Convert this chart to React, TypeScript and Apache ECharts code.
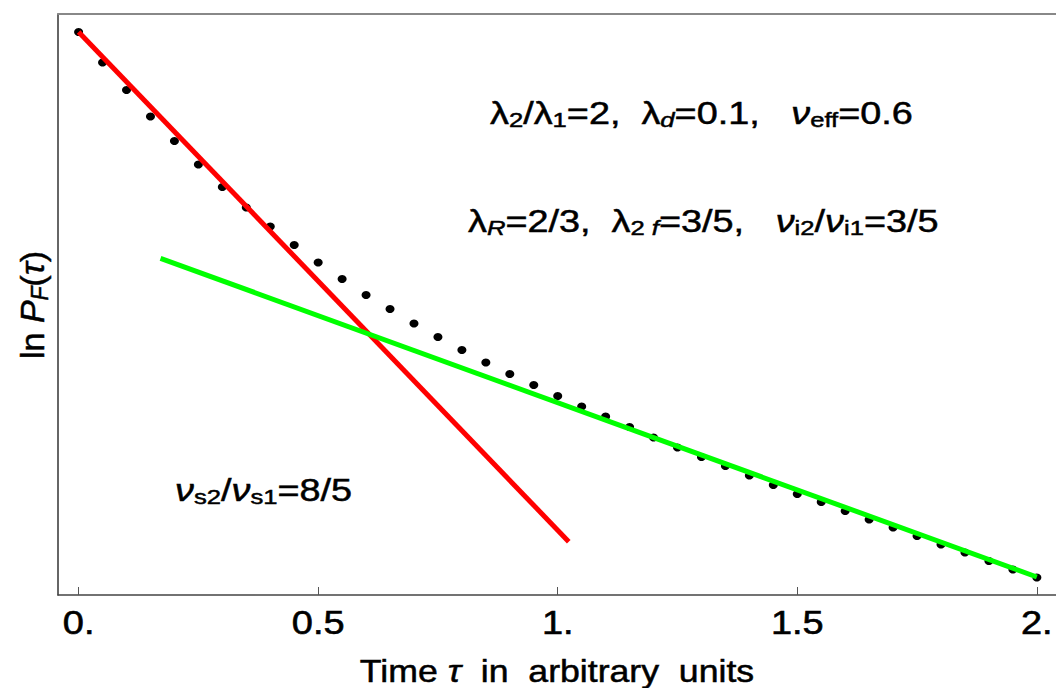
import { useEffect, useRef } from "react";
import * as echarts from "echarts";

// Sampled survival data ln P_F(tau), every 0.05 time units
const tau = [
  0, 0.05, 0.1, 0.15, 0.2, 0.25, 0.3, 0.35, 0.4, 0.45, 0.5, 0.55, 0.6, 0.65,
  0.7, 0.75, 0.8, 0.85, 0.9, 0.95, 1.0, 1.05, 1.1, 1.15, 1.2, 1.25, 1.3, 1.35,
  1.4, 1.45, 1.5, 1.55, 1.6, 1.65, 1.7, 1.75, 1.8, 1.85, 1.9, 1.95, 2.0,
];
const lnP = [
  0, -0.305, -0.58, -0.845, -1.09, -1.325, -1.55, -1.755, -1.945, -2.13,
  -2.305, -2.47, -2.63, -2.77, -2.915, -3.05, -3.18, -3.305, -3.42, -3.53,
  -3.64, -3.745, -3.845, -3.95, -4.055, -4.155, -4.25, -4.34, -4.435, -4.53,
  -4.62, -4.7, -4.79, -4.875, -4.955, -5.04, -5.125, -5.205, -5.29, -5.375,
  -5.455,
];

// Asymptotic straight-line fits: short-time (red) and long-time (green)
const shortFitX = [0, 1.023];
const shortFitY = [0, -5.097];
const longFitX = [0.171, 2.0];
const longFitY = [-2.263, -5.45];

const xTicks = [0, 0.5, 1, 1.5, 2];
const xTickLabels = ["0.", "0.5", "1.", "1.5", "2."];

const FONT = "'Liberation Sans', Arial, Helvetica, sans-serif";

export default function App() {
  const ref = useRef<HTMLDivElement>(null);

  useEffect(() => {
    const chart = echarts.init(ref.current!, null, { renderer: "svg" });

    // Text weight is thickened a little with a thin outline in the fill colour
    const ink = { fill: "#000", stroke: "#000", lineWidth: 0.5 };
    const M = 31;
    const S = 21;
    const rich = {
      m: { fontFamily: FONT, fontSize: M, ...ink },
      it: { fontFamily: FONT, fontSize: M, fontStyle: "italic", ...ink },
      sub: { fontFamily: FONT, fontSize: S, padding: [14, 0, 0, 0], ...ink },
      subi: {
        fontFamily: FONT,
        fontSize: S,
        fontStyle: "italic",
        padding: [14, 0, 0, 0],
        ...ink,
      },
    };
    const yRich = {
      m: { fontFamily: FONT, fontSize: 34, ...ink },
      it: { fontFamily: FONT, fontSize: 34, fontStyle: "italic", ...ink },
      subi: {
        fontFamily: FONT,
        fontSize: 23,
        fontStyle: "italic",
        padding: [15, 0, 0, 0],
        ...ink,
      },
    };

    const pts = tau.map((t, i) => [t, lnP[i]]);
    const shortFit = shortFitX.map((x, i) => [x, shortFitY[i]]);
    const longFit = longFitX.map((x, i) => [x, longFitY[i]]);

    chart.setOption({
      animation: false,
      backgroundColor: "#fff",
      grid: { left: 58, top: 14, width: 1000, height: 581, containLabel: false },
      xAxis: [
        {
          type: "value",
          min: -0.043,
          max: 2.04,
          position: "bottom",
          splitLine: { show: false },
          axisLine: { show: true, onZero: false, lineStyle: { color: "#444", width: 1.5 } },
          axisTick: {
            show: true,
            inside: true,
            length: 8,
            customValues: xTicks,
            lineStyle: { color: "#555", width: 1 },
          },
          axisLabel: { show: false },
        },
        {
          type: "value",
          min: -0.043,
          max: 2.04,
          position: "top",
          splitLine: { show: false },
          axisLine: { show: true, onZero: false, lineStyle: { color: "#888", width: 2 } },
          axisTick: { show: false },
          axisLabel: { show: false },
        },
      ],
      yAxis: {
        type: "value",
        min: -5.63,
        max: 0.18,
        splitLine: { show: false },
        axisLine: { show: true, onZero: false, lineStyle: { color: "#333", width: 1.5 } },
        axisTick: { show: false },
        axisLabel: { show: false },
      },
      series: [
        {
          type: "scatter",
          data: pts,
          symbol: "circle",
          symbolSize: [9, 8],
          itemStyle: { color: "#000", opacity: 1 },
          z: 2,
        },
        {
          type: "line",
          data: shortFit,
          showSymbol: false,
          lineStyle: { color: "#ff0000", width: 5 },
          z: 3,
        },
        {
          type: "line",
          data: longFit,
          showSymbol: false,
          lineStyle: { color: "#00ff00", width: 5 },
          z: 3,
        },
      ],
    });

    // Tick labels are placed from the x axis scale, drawn slightly wide
    const tickTexts = xTicks.map((v, i) => ({
      type: "text",
      x: chart.convertToPixel({ xAxisIndex: 0 }, v) as number,
      y: 623,
      scaleX: 1.15,
      style: {
        text: xTickLabels[i],
        fontFamily: FONT,
        fontSize: 33,
        ...ink,
        lineWidth: 0.6,
        align: "center",
        verticalAlign: "middle",
      },
    }));

    chart.setOption({
      graphic: [
        ...tickTexts,
        {
          type: "text",
          x: 490,
          y: 113,
          scaleX: 1.22,
          style: {
            text: "{m|λ}{sub|2}{m|/λ}{sub|1}{m|=2,  λ}{subi|d}{m|=0.1,   }{it|ν}{sub|eff}{m|=0.6}",
            rich,
            align: "left",
            verticalAlign: "middle",
          },
        },
        {
          type: "text",
          x: 468,
          y: 221,
          scaleX: 1.22,
          style: {
            text: "{m|λ}{subi|R}{m|=2/3,  λ}{sub|2 }{subi|f}{m|=3/5,   }{it|ν}{sub|i2}{m|/}{it|ν}{sub|i1}{m|=3/5}",
            rich,
            align: "left",
            verticalAlign: "middle",
          },
        },
        {
          type: "text",
          x: 175,
          y: 490,
          scaleX: 1.22,
          style: {
            text: "{it|ν}{sub|s2}{m|/}{it|ν}{sub|s1}{m|=8/5}",
            rich,
            align: "left",
            verticalAlign: "middle",
          },
        },
        {
          type: "text",
          x: 557,
          y: 671,
          scaleX: 1.15,
          style: {
            text: "{m|Time }{it|τ}{m|  in  arbitrary  units}",
            rich,
            align: "center",
            verticalAlign: "middle",
          },
        },
        {
          type: "text",
          x: 32,
          y: 305,
          rotation: Math.PI / 2,
          style: {
            text: "{m|ln }{it|P}{subi|F}{m|(}{it|τ}{m|)}",
            rich: yRich,
            align: "center",
            verticalAlign: "middle",
          },
        },
      ],
    });

    return () => chart.dispose();
  }, []);

  return (
    <div
      ref={ref}
      style={{ position: "fixed", left: 0, top: 0, width: 1056, height: 688 }}
    />
  );
}
